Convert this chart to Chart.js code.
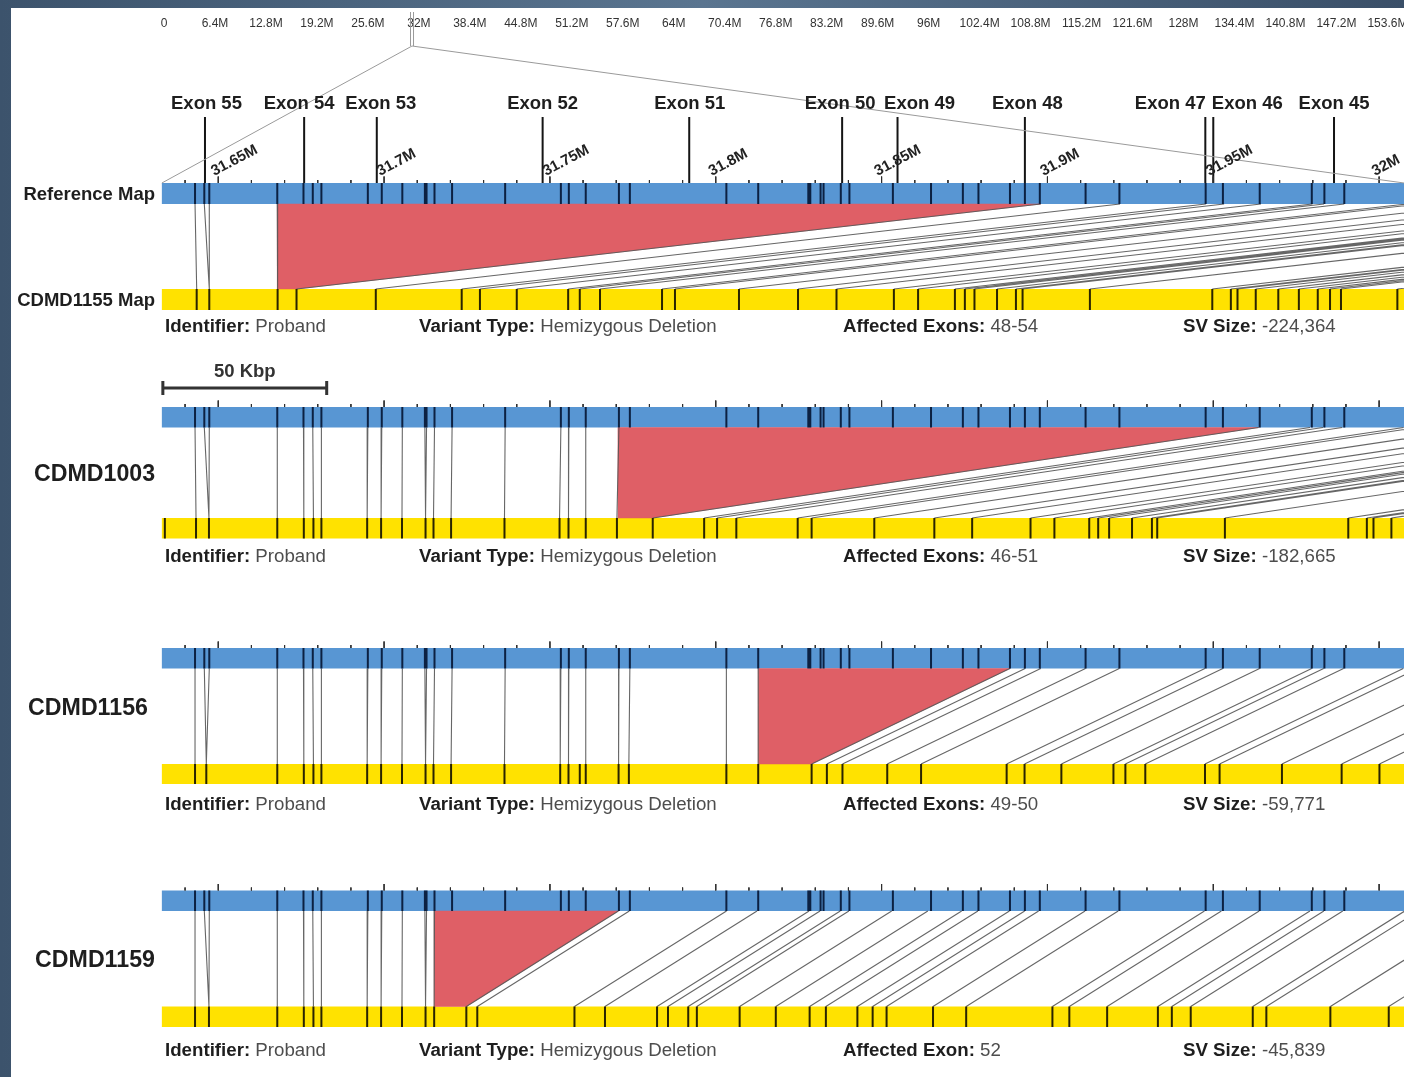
<!DOCTYPE html>
<html>
<head>
<meta charset="utf-8">
<title>DMD optical map deletions</title>
<script src="https://cdn.jsdelivr.net/npm/chart.js@4/dist/chart.umd.min.js"></script>
<style>
  html, body { margin: 0; padding: 0; width: 1404px; height: 1077px; overflow: hidden; }
  body { position: relative; background: linear-gradient(90deg, #3c536c 0%, #5a7590 50%, #3a4f68 100%); }
  #sheet { position: absolute; left: 11px; top: 8px; right: 0; bottom: 0; background: #ffffff; }
  #wrap { position: absolute; left: 0; top: 0; width: 1404px; height: 1077px; }
</style>
</head>
<body>
<div id="sheet"></div>
<div id="wrap"><canvas id="c" width="1404" height="1077"></canvas></div>
<script>
// ---- chrX, DMD locus (positions in kb) ----
const viewKb = [31584.2, 32007.5];
const mapStartKb = 31633.0;
const scaleBarKb = 50;

// chromosome ruler (Mb)
const chromTicksMb = [0, 6.4, 12.8, 19.2, 25.6, 32, 38.4, 44.8, 51.2, 57.6, 64, 70.4, 76.8, 83.2,
  89.6, 96, 102.4, 108.8, 115.2, 121.6, 128, 134.4, 140.8, 147.2, 153.6];
const dmdStartMb = 31.14;

// reference map labels
const refLabelsKb = [31643.0, 31645.8, 31647.3, 31667.8, 31675.7, 31678.5, 31681.1, 31695.1, 31699.3,
  31705.5, 31712.3, 31712.8, 31715.2, 31720.5, 31736.5, 31753.3, 31755.7, 31760.8, 31770.8, 31774.1,
  31803.2, 31812.8, 31827.9, 31828.5, 31831.6, 31832.5, 31837.7, 31840.3, 31853.4, 31864.9, 31874.5,
  31879.2, 31888.7, 31893.2, 31897.7, 31911.5, 31921.7, 31947.7, 31952.9, 31964.0, 31979.7, 31983.5,
  31989.5];

// exons
const exonNames = ['Exon 55', 'Exon 54', 'Exon 53', 'Exon 52', 'Exon 51', 'Exon 50', 'Exon 49',
  'Exon 48', 'Exon 47', 'Exon 46', 'Exon 45'];
const exonKb = [31646.0, 31675.9, 31697.8, 31747.8, 31792.0, 31838.1, 31854.8, 31893.2, 31947.6,
  31950.0, 31986.4];

// samples
const sampleNames = ['CDMD1155', 'CDMD1003', 'CDMD1156', 'CDMD1159'];
const identifiers = ['Proband', 'Proband', 'Proband', 'Proband'];
const variantTypes = ['Hemizygous Deletion', 'Hemizygous Deletion', 'Hemizygous Deletion', 'Hemizygous Deletion'];
const affectedExons = ['48-54', '46-51', '49-50', '52'];
const svSizes = [-224364, -182665, -59771, -45839];
// deletion breakpoints in sample coordinates: [start, end]
const deletionsKb = [[31667.8, 31673.6], [31770.5, 31781.0], [31812.8, 31828.9], [31715.1, 31724.8]];

const cdmd1155Labels = [31643.5, 31647.3, 31667.9, 31673.6, 31697.5, 31723.4, 31728.9, 31740.0, 31755.5,
  31759.0, 31765.1, 31783.8, 31787.7, 31807.0, 31824.8, 31836.4, 31853.7, 31861.0, 31872.1, 31875.1,
  31878.0, 31884.8, 31890.5, 31892.5, 31912.8, 31949.7, 31955.3, 31957.3, 31962.8, 31969.6, 31975.8,
  31981.5, 31985.2, 31988.5, 32005.5];
const cdmd1155Pairs = [[31643.0, 31643.5], [31645.8, 31647.3], [31647.3, 31647.3], [31667.8, 31667.9]];

const cdmd1003Labels = [31633.9, 31643.3, 31647.2, 31667.8, 31675.8, 31678.7, 31681.1, 31694.9, 31699.1,
  31705.4, 31712.5, 31714.9, 31720.2, 31736.3, 31752.9, 31755.6, 31760.8, 31770.2, 31781.0, 31796.5,
  31800.4, 31806.2, 31824.7, 31828.9, 31847.8, 31865.9, 31877.3, 31894.9, 31902.1, 31912.6, 31915.3,
  31918.6, 31925.5, 31931.5, 31933.1, 31953.5, 31990.7, 31996.3, 31998.3, 32003.7];
const cdmd1003Pairs = [[31643.0, 31643.3], [31645.8, 31647.2], [31647.3, 31647.2], [31667.8, 31667.8],
  [31675.7, 31675.8], [31678.5, 31678.7], [31681.1, 31681.1], [31695.1, 31694.9], [31699.3, 31699.1],
  [31705.5, 31705.4], [31712.3, 31712.5], [31712.8, 31712.5], [31715.2, 31714.9], [31720.5, 31720.2],
  [31736.5, 31736.3], [31753.3, 31752.9], [31755.7, 31755.6], [31760.8, 31760.8], [31770.8, 31770.2]];

const cdmd1156Labels = [31643.0, 31646.4, 31667.8, 31675.8, 31678.7, 31681.1, 31694.9, 31699.1, 31705.4,
  31712.5, 31714.9, 31720.2, 31736.3, 31753.1, 31755.6, 31759.0, 31760.8, 31770.7, 31773.8, 31803.2,
  31812.8, 31828.9, 31833.5, 31838.2, 31851.7, 31861.9, 31887.7, 31893.1, 31904.2, 31919.9, 31923.5,
  31929.5, 31947.5, 31951.9, 31970.7, 31988.7, 32000.1];
const cdmd1156Pairs = [[31643.0, 31643.0], [31645.8, 31646.4], [31647.3, 31646.4], [31667.8, 31667.8],
  [31675.7, 31675.8], [31678.5, 31678.7], [31681.1, 31681.1], [31695.1, 31694.9], [31699.3, 31699.1],
  [31705.5, 31705.4], [31712.3, 31712.5], [31712.8, 31712.5], [31715.2, 31714.9], [31720.5, 31720.2],
  [31736.5, 31736.3], [31753.3, 31753.1], [31755.7, 31755.6], [31760.8, 31760.8], [31770.8, 31770.7],
  [31774.1, 31773.8], [31803.2, 31803.2], [31812.8, 31812.8]];

const cdmd1159Labels = [31643.0, 31647.2, 31667.8, 31675.8, 31678.7, 31681.1, 31694.9, 31699.1, 31705.4,
  31712.5, 31715.1, 31724.8, 31728.1, 31757.4, 31766.6, 31782.3, 31785.6, 31791.7, 31794.3, 31807.2,
  31818.1, 31828.3, 31833.2, 31842.7, 31847.3, 31851.5, 31865.5, 31875.5, 31901.5, 31906.6, 31918.0,
  31933.3, 31937.5, 31943.2, 31961.9, 31966.0, 31985.3, 32002.9];
const cdmd1159Pairs = [[31643.0, 31643.0], [31645.8, 31647.2], [31647.3, 31647.2], [31667.8, 31667.8],
  [31675.7, 31675.8], [31678.5, 31678.7], [31681.1, 31681.1], [31695.1, 31694.9], [31699.3, 31699.1],
  [31705.5, 31705.4], [31712.3, 31712.5], [31712.8, 31712.5], [31715.2, 31715.1]];

const sampleLabels = [cdmd1155Labels, cdmd1003Labels, cdmd1156Labels, cdmd1159Labels];
const samplePairs = [cdmd1155Pairs, cdmd1003Pairs, cdmd1156Pairs, cdmd1159Pairs];

// ---- layout and style ----
const BLUE = '#5896d3', YELLOW = '#ffe200', RED = '#df5f66';
const REF_MARK = '#0c2142', SMP_MARK = '#2a2400', LINK = 'rgba(85,85,85,0.9)';
const FONT = '"Liberation Sans", Arial, Helvetica, sans-serif';
const rows = [
  { refTop: 183, refBottom: 204, smpTop: 289, smpBottom: 310, infoY: 327 },
  { refTop: 407, refBottom: 427.5, smpTop: 518, smpBottom: 538.5, infoY: 557 },
  { refTop: 648, refBottom: 668.5, smpTop: 764, smpBottom: 784, infoY: 805 },
  { refTop: 890.5, refBottom: 911, smpTop: 1006.5, smpBottom: 1027, infoY: 1051 }
];
const rowNameStyle = [
  { x: 155, y: 301, size: 18.5, align: 'right', suffix: ' Map' },
  { x: 94.5, y: 475, size: 23.2, align: 'center', suffix: '' },
  { x: 88, y: 709, size: 23.2, align: 'center', suffix: '' },
  { x: 95, y: 961, size: 23.2, align: 'center', suffix: '' }
];
const infoColumnsX = [165, 419, 843, 1183];
const infoFontPx = 18.7;
const exonLabelNudge = [1.5, -5, 4, 0, 0.5, -2, 22, 2.5, -35, 34, 0];
const layoutY = { ruler: 24, markerTop: 12, markerBottom: 46, exonText: 104, exonLineTop: 117, scaleText: 372, scaleBar: 388 };
const rulerX0 = 164, rulerPxPerMb = 7.965;

// ---- datasets ----
function segData(list) {
  const d = [];
  list.forEach(([x1, y1, x2, y2]) => { d.push({ x: x1, y: y1 }, { x: x2, y: y2 }, { x: x2, y: null }); });
  return d;
}
function lineSet(data, color, width, order) {
  return { data, borderColor: color, borderWidth: width, pointRadius: 0, fill: false, tension: 0,
           spanGaps: false, order, borderCapStyle: 'butt' };
}

const datasets = [];
rows.forEach((r, i) => {
  const refMid = (r.refTop + r.refBottom) / 2, smpMid = (r.smpTop + r.smpBottom) / 2;
  // map bars
  datasets.push(lineSet([{ x: mapStartKb, y: refMid }, { x: viewKb[1], y: refMid }], BLUE, r.refBottom - r.refTop, 10));
  datasets.push(lineSet([{ x: mapStartKb, y: smpMid }, { x: viewKb[1], y: smpMid }], YELLOW, r.smpBottom - r.smpTop, 10));

  // deleted segment
  const [dStart, dEnd] = deletionsKb[i];
  const svKb = Math.abs(svSizes[i]) / 1000;
  const refEnd = dEnd + svKb;
  datasets.push({
    data: [{ x: dStart, y: r.refBottom }, { x: refEnd, y: r.refBottom }, { x: dEnd, y: r.smpTop },
           { x: dStart, y: r.smpTop }, { x: dStart, y: r.refBottom }],
    fill: 'shape', backgroundColor: RED, borderColor: RED, borderWidth: 0.5, pointRadius: 0, tension: 0, order: 9
  });

  // alignment links
  const links = samplePairs[i].map(([ref, smp]) => [ref, r.refBottom, smp, r.smpTop]);
  sampleLabels[i].filter(s => s >= dEnd - 0.01).forEach(s => links.push([s + svKb, r.refBottom, s, r.smpTop]));
  datasets.push(lineSet(segData(links), LINK, 1.1, 8));

  // label marks on the maps
  datasets.push(lineSet(segData(refLabelsKb.map(v => [v, r.refTop, v, r.refBottom])), REF_MARK, 2, 2));
  datasets.push(lineSet(segData(sampleLabels[i].map(v => [v, r.smpTop, v, r.smpBottom])), SMP_MARK, 2, 2));

  // 10 kb ruler ticks above the reference map
  const ticks = [];
  for (let v = 31640; v <= 32000; v += 10) {
    const h = v % 50 === 0 ? 6.5 : 3;
    ticks.push([v, r.refTop - h, v, r.refTop]);
  }
  datasets.push(lineSet(segData(ticks), '#2f2f2f', 1, 1));
});
// exon positions
datasets.push(lineSet(segData(exonKb.map(v => [v, layoutY.exonLineTop, v, rows[0].refTop])), '#151515', 2, 1));

// ---- text and overview connectors ----
function fmtMb(v) { return v === 0 ? '0' : (+v.toFixed(2)) + 'M'; }
function drawRuns(ctx, x, y, parts, size) {
  parts.forEach(([txt, bold]) => {
    ctx.font = (bold ? 'bold ' : '') + size + 'px ' + FONT;
    ctx.fillStyle = bold ? '#1e1e1e' : '#4d4d4d';
    ctx.fillText(txt, x, y);
    x += ctx.measureText(txt).width;
  });
}

const annotations = {
  id: 'annotations',
  afterDatasetsDraw(chart) {
    const { ctx, scales: { x, y, xc } } = chart;
    ctx.save();

    // chromosome overview ruler
    ctx.font = '12px ' + FONT; ctx.fillStyle = '#333'; ctx.textAlign = 'center'; ctx.textBaseline = 'middle';
    chromTicksMb.forEach(v => ctx.fillText(fmtMb(v), xc.getPixelForValue(v), layoutY.ruler));
    const mx = xc.getPixelForValue(dmdStartMb);
    ctx.strokeStyle = '#9a9a9a'; ctx.lineWidth = 1;
    ctx.beginPath();
    ctx.moveTo(mx - 1.5, layoutY.markerTop); ctx.lineTo(mx - 1.5, layoutY.markerBottom);
    ctx.moveTo(mx + 1.5, layoutY.markerTop); ctx.lineTo(mx + 1.5, layoutY.markerBottom);
    ctx.moveTo(mx, layoutY.markerBottom); ctx.lineTo(x.getPixelForValue(mapStartKb), rows[0].refTop);
    ctx.moveTo(mx, layoutY.markerBottom); ctx.lineTo(x.getPixelForValue(viewKb[1]), rows[0].refTop);
    ctx.stroke();

    // exon names
    ctx.font = 'bold 18.5px ' + FONT; ctx.fillStyle = '#1e1e1e';
    exonKb.forEach((v, i) => ctx.fillText(exonNames[i], x.getPixelForValue(v) + exonLabelNudge[i], layoutY.exonText));

    // genomic coordinate labels (rotated)
    ctx.font = 'bold 15px ' + FONT; ctx.fillStyle = '#222'; ctx.textAlign = 'left'; ctx.textBaseline = 'alphabetic';
    for (let v = 31650; v <= 32000; v += 50) {
      ctx.save();
      ctx.translate(x.getPixelForValue(v) - 4, rows[0].refTop - 7);
      ctx.rotate(-28 * Math.PI / 180);
      ctx.fillText(fmtMb(v / 1000), 0, 0);
      ctx.restore();
    }

    // row names
    ctx.textBaseline = 'middle';
    ctx.font = 'bold 18.5px ' + FONT; ctx.fillStyle = '#1e1e1e'; ctx.textAlign = 'right';
    ctx.fillText('Reference Map', 155, (rows[0].refTop + rows[0].refBottom) / 2 + 1);
    rowNameStyle.forEach((s, i) => {
      ctx.font = 'bold ' + s.size + 'px ' + FONT; ctx.textAlign = s.align;
      ctx.fillText(sampleNames[i] + s.suffix, s.x, s.y);
    });

    // scale bar
    const sb0 = x.getPixelForValue(mapStartKb), sb1 = x.getPixelForValue(mapStartKb + scaleBarKb);
    ctx.strokeStyle = '#333'; ctx.lineWidth = 3;
    ctx.beginPath();
    ctx.moveTo(sb0, layoutY.scaleBar); ctx.lineTo(sb1, layoutY.scaleBar);
    ctx.moveTo(sb0 + 1, layoutY.scaleBar - 7); ctx.lineTo(sb0 + 1, layoutY.scaleBar + 7);
    ctx.moveTo(sb1 - 1, layoutY.scaleBar - 7); ctx.lineTo(sb1 - 1, layoutY.scaleBar + 7);
    ctx.stroke();
    ctx.font = 'bold 18.5px ' + FONT; ctx.fillStyle = '#333'; ctx.textAlign = 'center';
    ctx.fillText(scaleBarKb + ' Kbp', (sb0 + sb1) / 2, layoutY.scaleText);

    // variant details
    ctx.textAlign = 'left';
    rows.forEach((r, i) => {
      const exLabel = affectedExons[i].includes('-') ? 'Affected Exons: ' : 'Affected Exon: ';
      drawRuns(ctx, infoColumnsX[0], r.infoY, [['Identifier: ', true], [identifiers[i], false]], infoFontPx);
      drawRuns(ctx, infoColumnsX[1], r.infoY, [['Variant Type: ', true], [variantTypes[i], false]], infoFontPx);
      drawRuns(ctx, infoColumnsX[2], r.infoY, [[exLabel, true], [affectedExons[i], false]], infoFontPx);
      drawRuns(ctx, infoColumnsX[3], r.infoY, [['SV Size: ', true], [svSizes[i].toLocaleString('en-US'), false]], infoFontPx);
    });
    ctx.restore();
  }
};

new Chart(document.getElementById('c'), {
  type: 'line',
  data: { datasets },
  options: {
    responsive: false,
    animation: false,
    events: [],
    layout: { padding: 0 },
    plugins: { legend: { display: false }, tooltip: { enabled: false } },
    scales: {
      x: { type: 'linear', min: viewKb[0], max: viewKb[1], display: false },
      y: { type: 'linear', min: 0, max: 1077, reverse: true, display: false },
      xc: { type: 'linear', axis: 'x', min: -rulerX0 / rulerPxPerMb, max: (1404 - rulerX0) / rulerPxPerMb, display: false }
    }
  },
  plugins: [annotations]
});
</script>
</body>
</html>
